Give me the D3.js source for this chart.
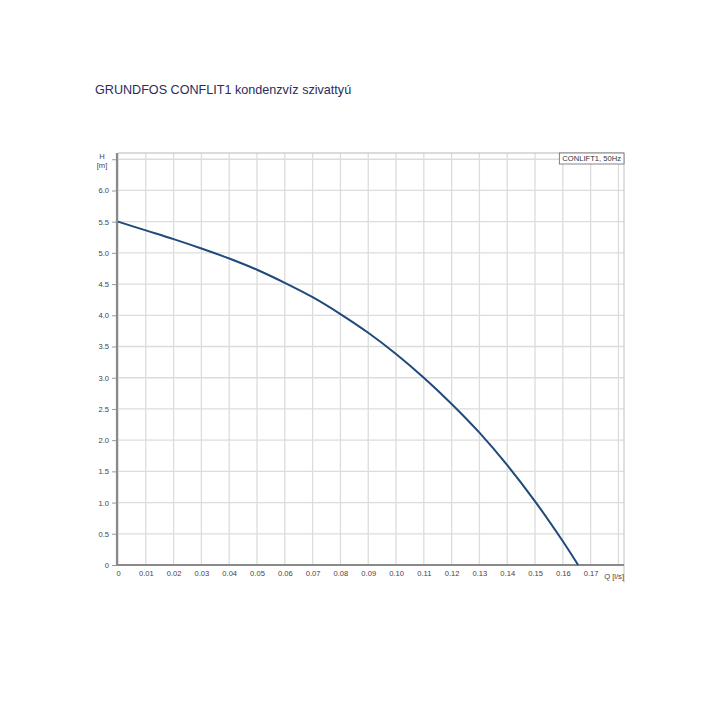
<!DOCTYPE html>
<html><head><meta charset="utf-8">
<script src="https://cdn.jsdelivr.net/npm/d3@7"></script>
<style>body{margin:0;background:#fff}svg{display:block}</style>
</head><body>
<svg id="c" width="720" height="720"></svg>
<script>
const title = "GRUNDFOS CONFLIT1 kondenzvíz szivattyú";
const seriesName = "CONLIFT1, 50Hz";
const flowQ = [0,0.01,0.02,0.03,0.04,0.05,0.06,0.07,0.08,0.09,0.10,0.11,0.12,0.13,0.14,0.15,0.16,0.1655];
const headH = [5.5,5.36,5.22,5.07,4.91,4.73,4.52,4.29,4.02,3.72,3.38,3.00,2.58,2.12,1.60,1.02,0.38,0];
const xTicks = [0,0.01,0.02,0.03,0.04,0.05,0.06,0.07,0.08,0.09,0.10,0.11,0.12,0.13,0.14,0.15,0.16,0.17,0.18];
const xTickLabels = ["0","0.01","0.02","0.03","0.04","0.05","0.06","0.07","0.08","0.09","0.10","0.11","0.12","0.13","0.14","0.15","0.16","0.17",""];
const yTicks = [0,0.5,1,1.5,2,2.5,3,3.5,4,4.5,5,5.5,6,6.5];
const yTickLabels = ["0","0.5","1.0","1.5","2.0","2.5","3.0","3.5","4.0","4.5","5.0","5.5","6.0",""];

const svg = d3.select("#c");
const L=118, R=624, T=153, B=565;
const x = d3.scaleLinear().domain([0,0.182]).range([L,R]);
const y = d3.scaleLinear().domain([0,6.6]).range([B,T]);
const FF = "Arial, Liberation Sans, sans-serif";

svg.append("text").attr("x",95).attr("y",94).attr("font-family",FF)
  .attr("font-size",12.6).attr("fill","#2b2b5e").text(title);

// grid
const g = svg.append("g");
g.selectAll(".vg").data(xTicks).join("line")
  .attr("x1",d=>x(d)).attr("x2",d=>x(d)).attr("y1",T).attr("y2",B)
  .attr("stroke","#dcdcdc").attr("stroke-width",1.3);
g.selectAll(".hg").data(yTicks).join("line")
  .attr("x1",L).attr("x2",R).attr("y1",d=>y(d)).attr("y2",d=>y(d))
  .attr("stroke","#dcdcdc").attr("stroke-width",1.3);
g.append("line").attr("x1",L).attr("x2",R).attr("y1",T).attr("y2",T).attr("stroke","#cfcfcf").attr("stroke-width",1.3);
g.append("line").attr("x1",R).attr("x2",R).attr("y1",T).attr("y2",583).attr("stroke","#cfcfcf").attr("stroke-width",1.3);

// axes
const xAxis = d3.axisBottom(x).tickValues(xTicks).tickSize(0).tickPadding(6)
  .tickFormat((d,i)=>xTickLabels[i]);
const ax = svg.append("g").attr("transform",`translate(0,${B})`).call(xAxis);
ax.select(".domain").attr("stroke","#8a8a8a").attr("stroke-width",2.2).attr("d",`M${L-1},0H${R}`);
ax.selectAll("text").attr("font-family",FF).attr("font-size",7.6).attr("fill","#444");

const yAxis = d3.axisLeft(y).tickValues(yTicks).tickSize(4).tickPadding(3)
  .tickFormat((d,i)=>yTickLabels[i]);
const ay = svg.append("g").attr("transform",`translate(${L-2},0)`).call(yAxis);
ay.select(".domain").attr("stroke","#8a8a8a").attr("stroke-width",2.2).attr("d",`M1,${T}V${B+1}`);
ay.selectAll(".tick line").attr("stroke","#999").attr("stroke-width",1);
ay.selectAll("text").attr("font-family",FF).attr("font-size",7.6).attr("fill","#444");

svg.append("text").attr("x",102).attr("y",159).attr("font-family",FF).attr("font-size",7.6).attr("fill","#444").attr("text-anchor","middle").text("H");
svg.append("text").attr("x",102).attr("y",168).attr("font-family",FF).attr("font-size",7.6).attr("fill","#444").attr("text-anchor","middle").text("[m]");
svg.append("text").attr("x",R).attr("y",B+14).attr("font-family",FF).attr("font-size",7.6).attr("fill","#444").attr("text-anchor","end").text("Q [l/s]");

// curve
const line = d3.line().x((d,i)=>x(flowQ[i])).y(d=>y(d)).curve(d3.curveCatmullRom.alpha(0.5));
svg.append("path").datum(headH).attr("d",line).attr("fill","none").attr("stroke","#1f4a7a").attr("stroke-width",2);

// legend box
const lg = svg.append("g");
const lt = lg.append("text").attr("x",R-3).attr("y",T+8).attr("text-anchor","end")
  .attr("font-family",FF).attr("font-size",7.6).attr("fill","#333").text(seriesName);
const bb = lt.node().getBBox();
lg.insert("rect","text").attr("x",bb.x-3).attr("y",T).attr("width",R-(bb.x-3)).attr("height",11)
  .attr("fill","#fff").attr("stroke","#666").attr("stroke-width",0.8);
</script>
</body></html>
